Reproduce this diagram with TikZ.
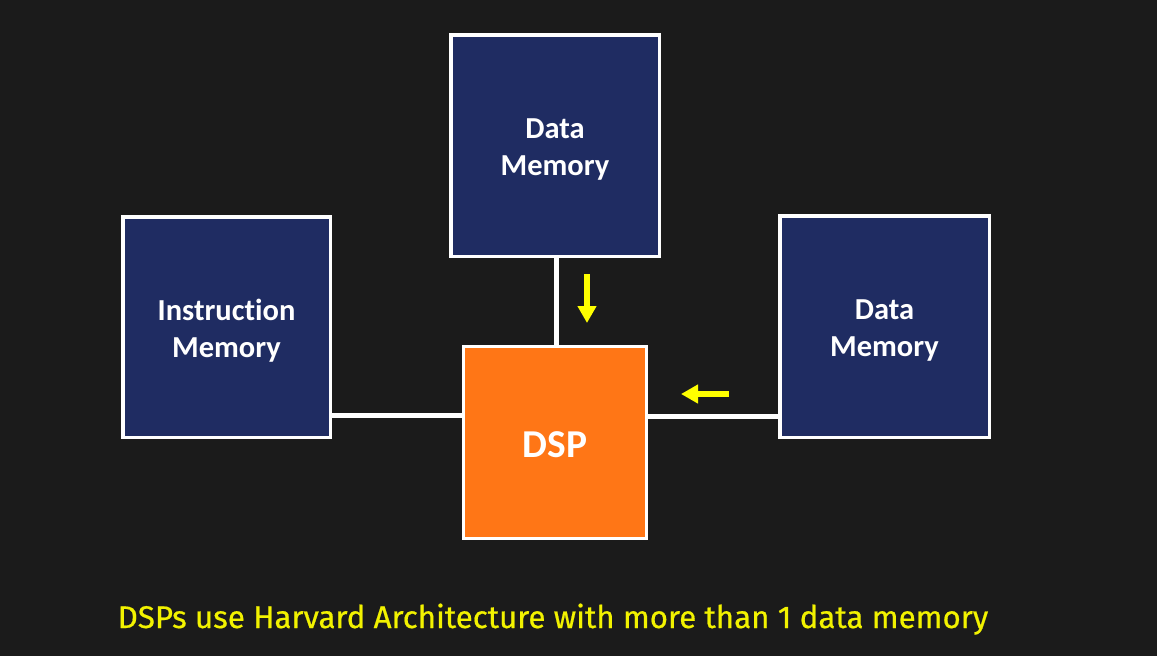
\documentclass[tikz,border=0pt]{standalone}
\usepackage{fontspec}
\setmainfont{Carlito}[Ligatures=NoCommon]
\newfontfamily\capfont{Fira Sans}[FakeBold=0.6]
\usetikzlibrary{arrows.meta}
\definecolor{bgc}{HTML}{1B1B1B}
\definecolor{navy}{HTML}{1F2C62}
\definecolor{orng}{HTML}{FF7616}
\definecolor{yel}{HTML}{FFFF00}
\definecolor{capyel}{HTML}{F2F200}
\tikzset{
  membox/.style={draw=white, line width=3.5pt, fill=navy, text=white,
    font=\bfseries\fontsize{30.5}{37}\selectfont, align=center, inner sep=0pt},
  dspbox/.style={draw=white, line width=3pt, fill=orng, text=white,
    font=\bfseries\fontsize{39.5}{44}\selectfont, inner sep=0pt},
  bus/.style={draw=white, line width=5pt},
  flow/.style={draw=yel, line width=6pt, -{Triangle[width=18pt,length=17pt]}}
}
\begin{document}
\begin{tikzpicture}[x=1pt,y=-1pt]
\fill[bgc] (0,0) rectangle (1157,656);
\useasboundingbox (0,0) rectangle (1157,656);
\node[membox, minimum width=207.5pt, minimum height=220.5pt] (instr) at (226.5,327) {};
\node[membox, minimum width=208.5pt, minimum height=221.5pt] (dmtop) at (555,145.5) {};
\node[membox, minimum width=209.5pt, minimum height=221.5pt] (dmright) at (884.5,326.5) {};
\node[dspbox, minimum width=183pt, minimum height=192pt] (dsp) at (555,442.5) {};
\node[membox, draw=none, fill=none] (tinstr) at (226.5,331) {Instruction\\Memory};
\node[membox, draw=none, fill=none] (tdmtop) at (555,150) {Data\\Memory};
\node[membox, draw=none, fill=none] (tdmright) at (884.5,331) {Data\\Memory};
\node[dspbox, draw=none, fill=none] (tdsp) at (555,445) {DSP};
\coordinate (ly) at (0,415.5);
\coordinate (ry) at (0,416);
\draw[bus] (dmtop.south -| 556,0) -- (dsp.north -| 556,0);
\draw[bus] (instr.east |- ly) -- (dsp.west |- ly);
\draw[bus] (dsp.east |- ry) -- (dmright.west |- ry);
\coordinate (a1s) at (587,274);
\coordinate (a1e) at (587,323);
\coordinate (a2s) at (729,394);
\coordinate (a2e) at (681,394);
\draw[flow] (a1s) -- (a1e);
\draw[flow] (a2s) -- (a2e);
\node[text=capyel, font=\capfont\fontsize{31.3}{36}\selectfont, anchor=base] (cap) at (553,628) {DSPs use Harvard Architecture with more than 1 data memory};
\end{tikzpicture}
\end{document}
